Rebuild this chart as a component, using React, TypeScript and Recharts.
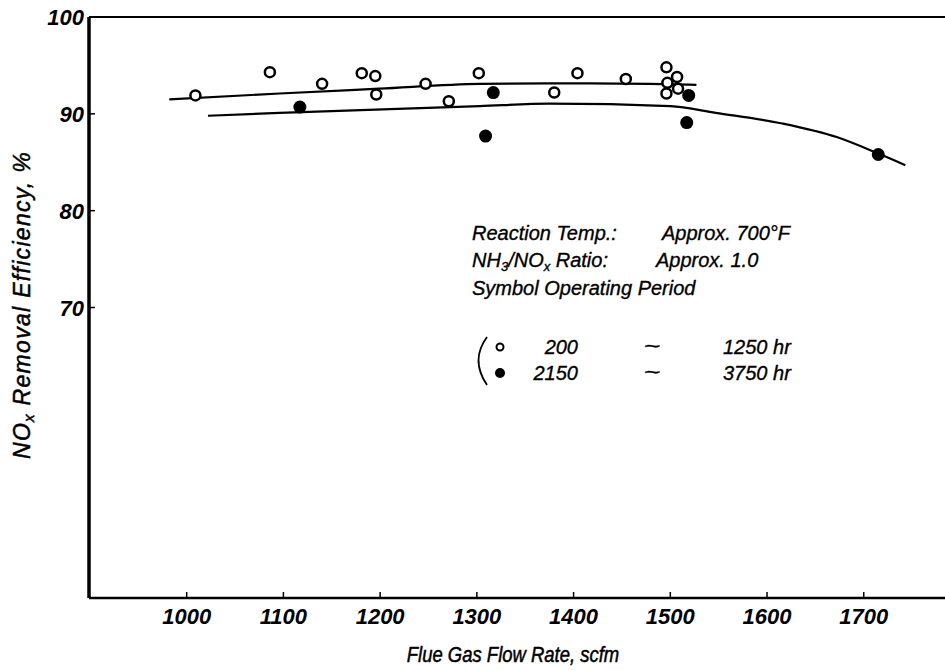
import React from "react";
import {
  ComposedChart,
  Line,
  Scatter,
  XAxis,
  YAxis,
  ReferenceLine,
} from "recharts";

// Open circles: 200 ~ 1250 hr
const openPoints = [
  { x: 1009, y: 91.9 },
  { x: 1086, y: 94.3 },
  { x: 1140, y: 93.1 },
  { x: 1181, y: 94.2 },
  { x: 1195, y: 93.9 },
  { x: 1196, y: 92.0 },
  { x: 1247, y: 93.1 },
  { x: 1271, y: 91.3 },
  { x: 1302, y: 94.2 },
  { x: 1380, y: 92.2 },
  { x: 1404, y: 94.2 },
  { x: 1454, y: 93.6 },
  { x: 1496, y: 94.8 },
  { x: 1507, y: 93.8 },
  { x: 1497, y: 93.2 },
  { x: 1508, y: 92.6 },
  { x: 1496, y: 92.1 },
];

// Filled circles: 2150 ~ 3750 hr
const filledPoints = [
  { x: 1117, y: 90.7 },
  { x: 1317, y: 92.2 },
  { x: 1309, y: 87.7 },
  { x: 1519, y: 91.9 },
  { x: 1517, y: 89.1 },
  { x: 1715, y: 85.8 },
];

// Hand-drawn fit curves
const upperCurve = [
  { x: 982, y: 91.5 },
  { x: 1096, y: 92.1 },
  { x: 1199, y: 92.6 },
  { x: 1303, y: 93.1 },
  { x: 1375, y: 93.15 },
  { x: 1478, y: 93.1 },
  { x: 1527, y: 93.0 },
];

const lowerCurve = [
  { x: 1022, y: 89.8 },
  { x: 1096, y: 90.1 },
  { x: 1303, y: 90.8 },
  { x: 1375, y: 91.05 },
  { x: 1500, y: 90.8 },
  { x: 1547, y: 90.1 },
  { x: 1616, y: 89.0 },
  { x: 1672, y: 87.6 },
  { x: 1715, y: 85.9 },
  { x: 1743, y: 84.7 },
];

const xTicks = [1000, 1100, 1200, 1300, 1400, 1500, 1600, 1700];
const yTicks = [70, 80, 90, 100];

const FONT = "'Liberation Sans', Arial, sans-serif";

const XTick = (props: any) => {
  const { x, y, payload } = props;
  return (
    <g>
      <line x1={x} y1={y} x2={x} y2={y - 6} stroke="#000" strokeWidth={1.5} />
      <text
        x={x}
        y={y + 26}
        textAnchor="middle"
        fontFamily={FONT}
        fontStyle="italic"
        fontWeight="bold"
        fontSize={22}
        fill="#000"
      >
        {payload.value}
      </text>
    </g>
  );
};

const YTick = (props: any) => {
  const { x, y, payload } = props;
  return (
    <g>
      <line x1={x} y1={y} x2={x + 6} y2={y} stroke="#000" strokeWidth={1.5} />
      <text
        x={x - 5}
        y={y + 8}
        textAnchor="end"
        fontFamily={FONT}
        fontStyle="italic"
        fontWeight="bold"
        fontSize={22}
        fill="#000"
      >
        {payload.value}
      </text>
    </g>
  );
};

const OpenDot = (props: any) => {
  const { cx, cy } = props;
  return <circle cx={cx} cy={cy} r={5} fill="#fff" stroke="#000" strokeWidth={2.5} />;
};

const FilledDot = (props: any) => {
  const { cx, cy } = props;
  return <circle cx={cx} cy={cy} r={6.5} fill="#000" stroke="none" />;
};

export default function App() {
  const t = {
    fontFamily: FONT,
    fontStyle: "italic" as const,
    fontSize: 20,
    fill: "#000",
    stroke: "#000",
    strokeWidth: 0.35,
  };
  return (
    <div
      style={{
        position: "absolute",
        left: 0,
        top: 0,
        width: 945,
        height: 670,
        background: "#fff",
      }}
    >
      <ComposedChart
        width={945}
        height={670}
        margin={{ top: 17, right: 0, bottom: 32, left: 29 }}
      >
        <XAxis
          type="number"
          dataKey="x"
          domain={[899, 1784]}
          ticks={xTicks}
          allowDataOverflow
          height={40}
          tickSize={0}
          tickMargin={0}
          tick={<XTick />}
          axisLine={{ stroke: "#000", strokeWidth: 2.5 }}
          tickLine={false}
        />
        <YAxis
          type="number"
          dataKey="y"
          domain={[40, 100]}
          ticks={yTicks}
          allowDataOverflow
          width={60}
          tickSize={0}
          tickMargin={0}
          tick={<YTick />}
          axisLine={{ stroke: "#000", strokeWidth: 3.5 }}
          tickLine={false}
        />
        <ReferenceLine y={100} stroke="#000" strokeWidth={2} />
        <Line
          data={upperCurve}
          dataKey="y"
          type="monotone"
          stroke="#000"
          strokeWidth={2.2}
          dot={false}
          isAnimationActive={false}
        />
        <Line
          data={lowerCurve}
          dataKey="y"
          type="monotone"
          stroke="#000"
          strokeWidth={2.2}
          dot={false}
          isAnimationActive={false}
        />
        <Scatter data={openPoints} shape={<OpenDot />} isAnimationActive={false} />
        <Scatter data={filledPoints} shape={<FilledDot />} isAnimationActive={false} />
      </ComposedChart>
      <svg
        width={945}
        height={670}
        style={{ position: "absolute", left: 0, top: 0, pointerEvents: "none" }}
      >
        <text {...t} x={472} y={240}>Reaction Temp.:</text>
        <text {...t} x={662} y={240}>Approx. 700°F</text>
        <text {...t} x={472} y={267}>
          NH<tspan fontSize={13} dy={4}>3</tspan>
          <tspan dy={-4}>/NO</tspan>
          <tspan fontSize={13} dy={4}>x</tspan>
          <tspan dy={-4}> Ratio:</tspan>
        </text>
        <text {...t} x={656} y={267}>Approx. 1.0</text>
        <text {...t} x={472} y={295}>Symbol Operating Period</text>
        <path
          d="M 487 337 Q 470 360 487 385"
          fill="none"
          stroke="#000"
          strokeWidth={1.8}
        />
        <circle cx={500} cy={347} r={3.5} fill="#fff" stroke="#000" strokeWidth={2} />
        <circle cx={500} cy={373} r={5} fill="#000" />
        <text {...t} x={578} y={354} textAnchor="end">200</text>
        <text {...t} x={578} y={380} textAnchor="end">2150</text>
        <text {...t} x={0} y={0} textAnchor="middle" transform="translate(652,353) scale(1.4,1)">~</text>
        <text {...t} x={0} y={0} textAnchor="middle" transform="translate(652,379) scale(1.4,1)">~</text>
        <text {...t} x={723} y={354}>1250 hr</text>
        <text {...t} x={723} y={380}>3750 hr</text>
        <text
          {...t}
          fontSize={22}
          strokeWidth={0.5}
          x={0}
          y={0}
          textAnchor="middle"
          transform="translate(513,662) scale(0.84,1)"
        >
          Flue Gas Flow Rate, scfm
        </text>
        <text
          {...t}
          fontSize={23}
          strokeWidth={0.5}
          letterSpacing={1.3}
          x={0}
          y={0}
          textAnchor="middle"
          transform="translate(30,305) rotate(-90)"
        >
          NO<tspan fontSize={15} dy={4}>x</tspan>
          <tspan dy={-4}> Removal Efficiency, %</tspan>
        </text>
      </svg>
    </div>
  );
}
